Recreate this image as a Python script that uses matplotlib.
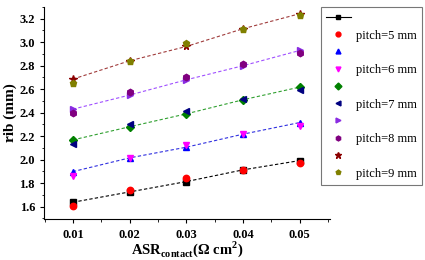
import matplotlib
matplotlib.use("Agg")
import matplotlib.pyplot as plt
from matplotlib.lines import Line2D
from matplotlib.ticker import MultipleLocator

plt.rcParams['font.family'] = ['Liberation Serif', 'DejaVu Serif']
plt.rcParams['mathtext.fontset'] = 'custom'
plt.rcParams['mathtext.rm'] = 'Liberation Serif'
plt.rcParams['mathtext.bf'] = 'Liberation Serif:bold'

asr = [0.01, 0.02, 0.03, 0.04, 0.05]

# fitted (line) series and measured (point) series per pitch
fit5 = [1.637, 1.725, 1.813, 1.913, 1.992]
pts5 = [1.606, 1.742, 1.847, 1.913, 1.975]
fit6 = [1.898, 2.015, 2.106, 2.217, 2.316]
pts6 = [1.864, 2.015, 2.126, 2.217, 2.288]
fit7 = [2.168, 2.280, 2.390, 2.510, 2.618]
pts7 = [2.132, 2.302, 2.416, 2.515, 2.595]
fit8 = [2.430, 2.550, 2.680, 2.800, 2.930]
pts8 = [2.396, 2.572, 2.703, 2.814, 2.907]
fit9 = [2.686, 2.842, 2.964, 3.115, 3.243]
pts9 = [2.657, 2.842, 2.993, 3.115, 3.228]

labels = ['pitch=5 mm', 'pitch=6 mm', 'pitch=7 mm', 'pitch=8 mm', 'pitch=9 mm']

fig = plt.figure(figsize=(4.25, 2.6), dpi=100)
ax = fig.add_axes([0.1035, 0.158, 0.6725, 0.815])

fit_styles = [
    ('s', '#000000', '#000000'),
    ('^', '#0000ff', '#3030e0'),
    ('D', '#008000', '#30a030'),
    ('>', '#8a2be2', '#a050ff'),
    ('*', '#8b0000', '#a03c3c'),
]
pt_styles = [
    ('o', '#ff0000'),
    ('v', '#ff00ff'),
    ('<', '#000080'),
    ('h', '#800080'),
    ('p', '#808000'),
]
fits = [fit5, fit6, fit7, fit8, fit9]
ptss = [pts5, pts6, pts7, pts8, pts9]

handles = []
hlabels = []
for i in range(5):
    m, mc, lc = fit_styles[i]
    ms = 5.5 if m == '*' else 4.2
    ax.plot(asr, fits[i], linestyle=(0, (3, 2)), color=lc, lw=0.8,
            marker=m, markersize=ms, markerfacecolor=mc, markeredgecolor=mc, zorder=2)
    pm, pc = pt_styles[i]
    ax.plot(asr, ptss[i], linestyle='none', marker=pm, markersize=4.6,
            markerfacecolor=pc, markeredgecolor=pc, zorder=3)
    if i == 0:
        handles.append(Line2D([], [], color='#000000', lw=0.8, marker='s', markersize=3.5))
    else:
        handles.append(Line2D([], [], linestyle='none', color=mc, marker=m,
                              markersize=4.5 if m == '*' else 3.5))
    hlabels.append(' ')
    handles.append(Line2D([], [], linestyle='none', color=pc, marker=pm, markersize=3.5))
    hlabels.append(labels[i])

ax.set_xlim(0.0049, 0.0553)
ax.set_ylim(1.495, 3.30)
ax.set_xticks(asr)
ax.set_xticklabels(['0.01', '0.02', '0.03', '0.04', '0.05'])
ax.set_yticks([1.6, 1.8, 2.0, 2.2, 2.4, 2.6, 2.8, 3.0, 3.2])
ax.set_yticklabels(['1.6', '1.8', '2.0', '2.2', '2.4', '2.6', '2.8', '3.0', '3.2'])
ax.xaxis.set_minor_locator(MultipleLocator(0.005))
ax.yaxis.set_minor_locator(MultipleLocator(0.1))
ax.tick_params(axis='both', which='major', direction='out', length=3, width=0.8,
               labelsize=9)
ax.tick_params(axis='x', which='major', pad=4)
ax.tick_params(axis='both', which='minor', direction='out', length=1.8, width=0.6)
for lab in ax.get_xticklabels() + ax.get_yticklabels():
    lab.set_fontweight('bold')
ax.spines['top'].set_visible(False)
ax.spines['right'].set_visible(False)

ax.set_xlabel(r'ASR$_{\mathbf{contact}}$($\mathbf{\Omega}$ cm$^{\mathbf{2}}$)',
              fontsize=10.5, fontweight='bold', labelpad=-1)
ax.set_ylabel('rib (mm)', fontsize=11, fontweight='bold', labelpad=2)

leg = fig.legend(handles, hlabels, loc='upper left',
                 bbox_to_anchor=(0.755, 0.972), fontsize=9,
                 frameon=True, fancybox=False, edgecolor='#555555',
                 handlelength=2.0, handletextpad=0.4, labelspacing=0.42,
                 borderpad=0.4, borderaxespad=0)
leg.get_frame().set_linewidth(0.8)

fig.savefig('out.png', dpi=100)
